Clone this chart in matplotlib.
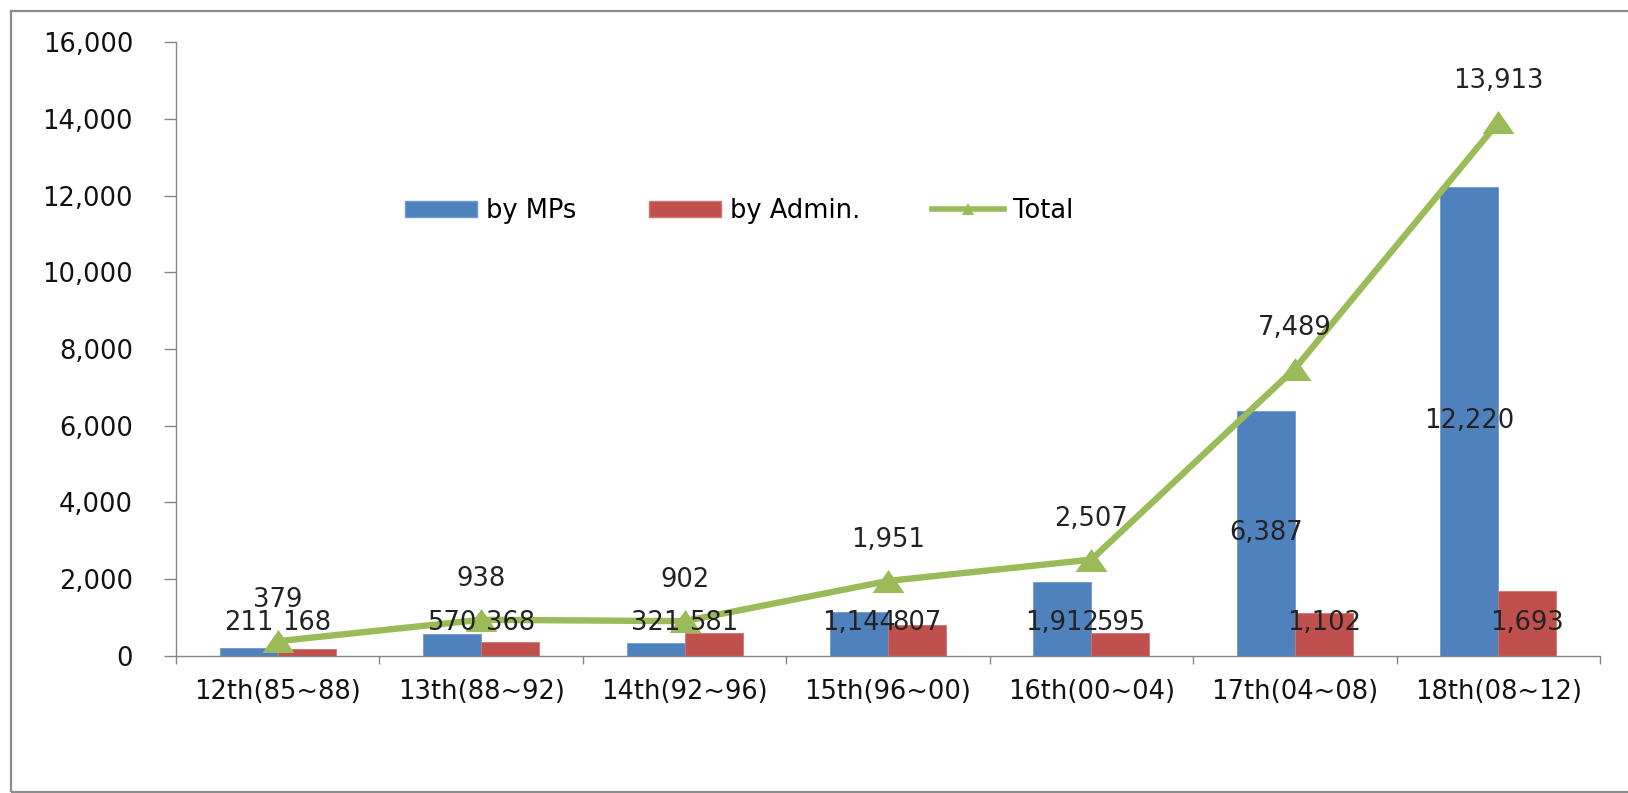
import numpy as np
import matplotlib
matplotlib.use("Agg")
import matplotlib.pyplot as plt
from matplotlib.patches import Patch, Rectangle
from matplotlib.lines import Line2D
from matplotlib.ticker import FuncFormatter, FixedLocator

sessions = ["12th(85~88)", "13th(88~92)", "14th(92~96)", "15th(96~00)",
            "16th(00~04)", "17th(04~08)", "18th(08~12)"]
by_mps = [211, 570, 321, 1144, 1912, 6387, 12220]
by_admin = [168, 368, 581, 807, 595, 1102, 1693]
total = [379, 938, 902, 1951, 2507, 7489, 13913]

blue = "#4F81BD"
red = "#C0504D"
green = "#9BBB59"
axis_gray = "#868686"
fs = 18.5

plt.rcParams["font.family"] = ["DejaVu Sans"]

fig = plt.figure(figsize=(16.28, 7.93), dpi=100)
ax = fig.add_axes([0.1081, 0.1731, 0.8747, 0.7736])

x = np.arange(len(sessions))
w = 0.285
ax.bar(x - w / 2, by_mps, w, color=blue, edgecolor="#6f98cc", linewidth=0.6)
ax.bar(x + w / 2, by_admin, w, color=red, edgecolor="#d47370", linewidth=0.6)

tri = [(-1, -0.72), (1, -0.72), (0, 0.72)]
ax.plot(x, total, color=green, linewidth=4.6, marker=tri, markersize=23,
        markeredgewidth=0, zorder=4)

fmt = lambda v: f"{v:,}"

# bar labels: near the base, tall bars centred
for xi, v in zip(x - w / 2, by_mps):
    if v > 5000:
        ax.annotate(fmt(v), (xi, v / 2), ha="center", va="center", fontsize=fs,
                    color="#222222", zorder=5)
    else:
        ax.annotate(fmt(v), (xi, 0), xytext=(0, 23.5), textcoords="offset points",
                    ha="center", va="center", fontsize=fs, color="#222222", zorder=5)
for xi, v in zip(x + w / 2, by_admin):
    ax.annotate(fmt(v), (xi, 0), xytext=(0, 23.5), textcoords="offset points",
                ha="center", va="center", fontsize=fs, color="#222222", zorder=5)
for xi, v in zip(x, total):
    ax.annotate(fmt(v), (xi, v), xytext=(0, 29.5), textcoords="offset points",
                ha="center", va="center", fontsize=fs, color="#222222", zorder=5)

ax.set_xlim(-0.5, len(sessions) - 0.5)
ax.set_ylim(0, 16000)
ax.set_yticks(np.arange(0, 16001, 2000))
ax.yaxis.set_major_formatter(FuncFormatter(lambda v, p: f"{int(v):,}"))
ax.set_xticks(x)
ax.set_xticklabels(sessions)
ax.xaxis.set_minor_locator(FixedLocator(np.arange(-0.5, len(sessions), 1.0)))

for s in ["top", "right"]:
    ax.spines[s].set_visible(False)
for s in ["left", "bottom"]:
    ax.spines[s].set_color(axis_gray)
    ax.spines[s].set_linewidth(1.0)

ax.tick_params(axis="y", direction="out", length=8.9, width=1.0, color=axis_gray,
               pad=22, labelsize=fs, labelcolor="#111111")
ax.tick_params(axis="x", which="major", length=0, pad=17, labelsize=fs,
               labelcolor="#111111")
ax.tick_params(axis="x", which="minor", direction="out", length=6, width=1.0,
               color=axis_gray)

handles = [
    Patch(facecolor=blue, edgecolor="#6f98cc"),
    Patch(facecolor=red, edgecolor="#d47370"),
    Line2D([], [], color=green, linewidth=4, marker="^", markersize=9,
           markeredgewidth=0),
]
fig.legend(handles, ["by MPs", "by Admin.", "Total"], loc="center",
           bbox_to_anchor=(0.454, 0.734), ncol=3, frameon=False, fontsize=fs,
           handlelength=2.8, handleheight=0.6, handletextpad=0.35,
           columnspacing=2.8)

fig.add_artist(Rectangle((11 / 1628, 1.3 / 793), 1.1, 1 - 12.3 / 793,
                         transform=fig.transFigure, fill=False,
                         edgecolor="#8c8c8c", linewidth=1.6, clip_on=False))

fig.savefig("out.png", dpi=100)
